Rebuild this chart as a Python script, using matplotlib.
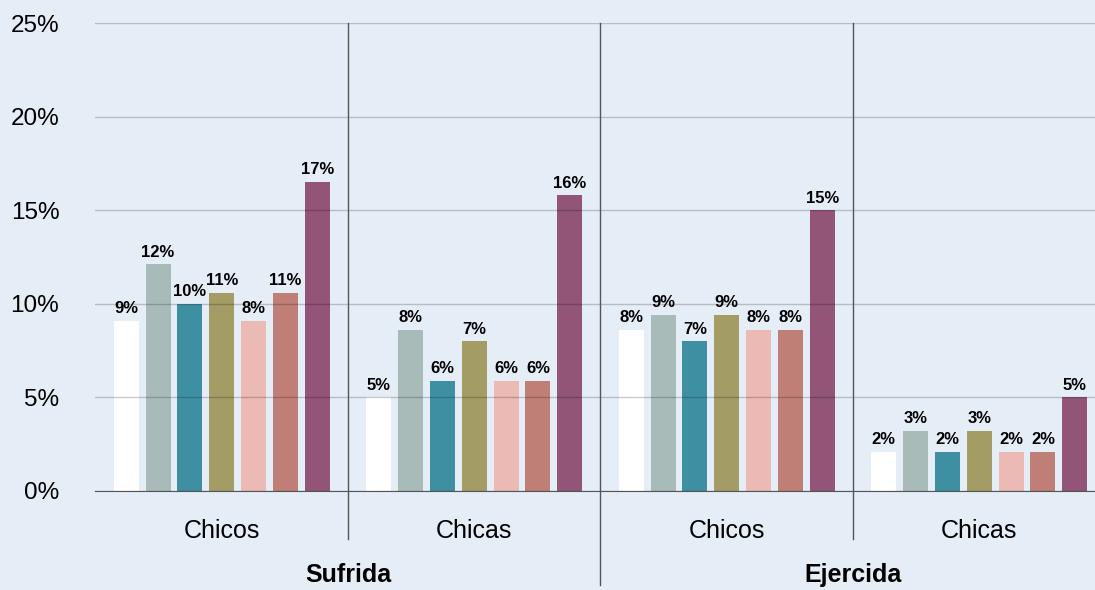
import matplotlib.pyplot as plt
import matplotlib.transforms as mtransforms
import numpy as np

# group / category labels
groups = ['Chicos', 'Chicas', 'Chicos', 'Chicas']
supergroups = ['Sufrida', 'Ejercida']

# bar heights (%) per group, 7 series each
values = [
    [9.1, 12.1, 10.0, 10.6, 9.1, 10.6, 16.5],
    [5.0, 8.6, 5.9, 8.0, 5.9, 5.9, 15.8],
    [8.6, 9.4, 8.0, 9.4, 8.6, 8.6, 15.0],
    [2.1, 3.2, 2.1, 3.2, 2.1, 2.1, 5.0],
]
# printed labels as shown on the chart
labels = [
    ['9%', '12%', '10%', '11%', '8%', '11%', '17%'],
    ['5%', '8%', '6%', '7%', '6%', '6%', '16%'],
    ['8%', '9%', '7%', '9%', '8%', '8%', '15%'],
    ['2%', '3%', '2%', '3%', '2%', '2%', '5%'],
]
colors = ['#FFFFFF', '#A9BBB9', '#3F8FA3', '#A39C65', '#EBBAB4', '#BF7F76', '#925577']

bg = '#E5EDF7'
fig = plt.figure(figsize=(10.95, 5.9), dpi=100, facecolor=bg)
ax = fig.add_axes([0.0872, 0.1678, 0.9224, 0.7932], facecolor=bg)

step = 0.126
width = 0.099
for g, vals in enumerate(values):
    for i, v in enumerate(vals):
        x = g + (i - 3) * step
        ax.bar(x, v, width=width, color=colors[i], zorder=1)
        ax.text(x, v + 0.25, labels[g][i], ha='center', va='bottom',
                fontsize=12, fontweight='bold', family='Liberation Sans', zorder=3)

ax.set_xlim(-0.5, 3.5)
ax.set_ylim(0, 25)
ax.set_yticks(np.arange(0, 26, 5))
ax.set_yticklabels([f'{t}%' for t in range(0, 26, 5)], fontsize=17.5, family='Liberation Sans')
ax.tick_params(axis='y', length=0, pad=26)
ax.set_xticks(range(4))
ax.set_xticklabels(groups, fontsize=18, family='Liberation Sans')
ax.tick_params(axis='x', length=0, pad=20)

ax.grid(axis='y', color='#000000', alpha=0.2, linewidth=1, zorder=2)
ax.set_axisbelow(False)
for s in ['left', 'right', 'top']:
    ax.spines[s].set_visible(False)
ax.spines['bottom'].set_color('#555555')
ax.spines['bottom'].set_zorder(4)

# group separators
for xs, ymin in [(0.5, -0.103), (1.5, -0.2), (2.5, -0.103)]:
    ax.axvline(xs, ymin=ymin, ymax=1, color='#555555', linewidth=1, clip_on=False, zorder=4)

trans = mtransforms.blended_transform_factory(ax.transData, ax.transAxes)
for k, name in enumerate(supergroups):
    ax.text(0.5 + 2 * k, -0.18, name, transform=trans, ha='center', va='center',
            fontsize=18, fontweight='bold', family='Liberation Sans')

fig.savefig('out.png', dpi=100, facecolor=bg)
